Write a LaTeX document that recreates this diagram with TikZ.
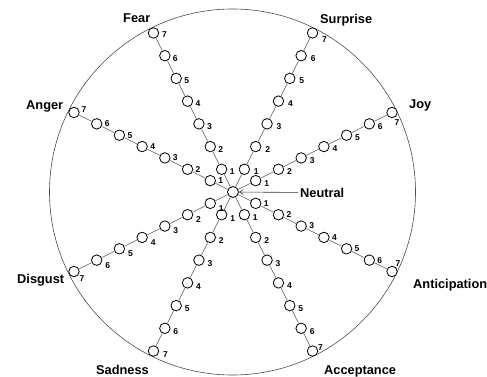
\documentclass[tikz,border=0pt]{standalone}
\usepackage{fontspec}
\setmainfont{Liberation Sans}
\usetikzlibrary{calc,arrows.meta}
\begin{document}
\begin{tikzpicture}[x=1pt,y=-1pt,
  emo/.style={font=\bfseries\fontsize{12.8}{14}\selectfont, anchor=base west, inner sep=0pt},
  num/.style={font=\bfseries\fontsize{8.5}{10}\selectfont, inner sep=0pt},
  st/.style={circle, draw=black, fill=white, line width=0.8pt, minimum size=10.5pt, inner sep=0pt},
  link/.style={draw=black!65, line width=0.6pt}]
\useasboundingbox (0,0) rectangle (487,377);
\draw[black!70, line width=0.6pt] (232.5,192) circle[radius=183];
\coordinate (c) at (233,192);
\node[st, minimum size=11pt] (n0) at (c) {};
\foreach \nm/\ux/\uy/\dx/\dy/\sx/\sy in {
  fear/-0.4472/-0.8944/10.5/2.5/11/2,
  surprise/0.4472/-0.8944/12/2.5/12/7,
  joy/0.8944/-0.4472/11/2.5/5/10,
  anticipation/0.8944/0.4472/10.5/0/6/-8,
  acceptance/0.4472/0.8944/11/3/8/-3,
  sadness/-0.4472/0.8944/11/3.5/12/4,
  disgust/-0.8944/0.4472/11/5/8/7,
  anger/-0.8944/-0.4472/10.5/0/10/-3} {
  \foreach \k in {1,...,7} {
    \node[st] (\nm\k) at ($(c)+({\k*25.4*(\ux)},{\k*25.4*(\uy)})$) {};
  }
  \foreach \k in {1,...,6} {
    \node[num] (\nm l\k) at ($(\nm\k)+(\dx,\dy)$) {\k};
  }
  \node[num] (\nm l7) at ($(\nm7)+(\sx,\sy)$) {7};
  \draw[link] (n0) -- (\nm1);
  \foreach \k [evaluate=\k as \j using int(\k+1)] in {1,...,6} {
    \draw[link] (\nm\k) -- (\nm\j);
  }
}
\node[emo] (tfear) at (123,23) {Fear};
\node[emo] (tsurprise) at (320,24) {Surprise};
\node[emo] (tjoy) at (409,109) {Joy};
\node[emo] (tanticipation) at (413,288) {Anticipation};
\node[emo] (tacceptance) at (324,374) {Acceptance};
\node[emo] (tsadness) at (96,374) {Sadness};
\node[emo] (tdisgust) at (17,283.5) {Disgust};
\node[emo] (tanger) at (26,109.5) {Anger};
\node[emo, inner xsep=2pt] (neutral) at (298,197) {Neutral};
\draw[black!80, line width=0.6pt, -{Straight Barb[length=4pt,width=5pt]}] (neutral.west) -- (n0);
\end{tikzpicture}
\end{document}
